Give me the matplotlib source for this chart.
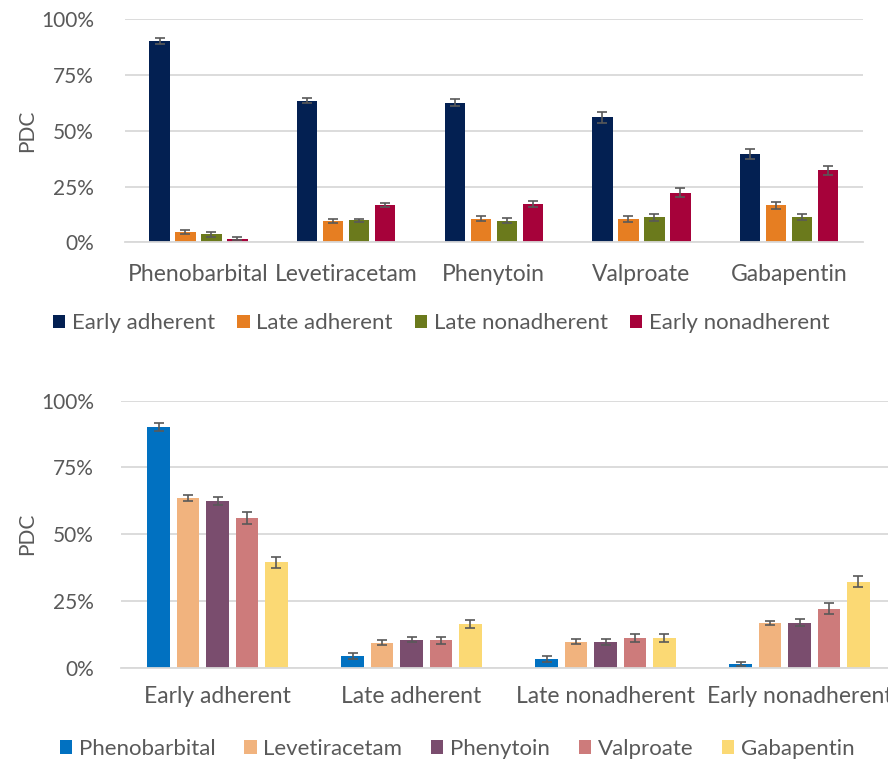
import numpy as np
import matplotlib
matplotlib.use("Agg")
import matplotlib.pyplot as plt
from matplotlib.ticker import PercentFormatter

plt.rcParams['font.family'] = ['Lato', 'DejaVu Sans']

drugs = ['Phenobarbital', 'Levetiracetam', 'Phenytoin', 'Valproate', 'Gabapentin']
groups = ['Early adherent', 'Late adherent', 'Late nonadherent', 'Early nonadherent']

# PDC (%) per drug, one list per adherence group
early_adh = [90.3, 63.5, 62.5, 56.1, 39.5]
late_adh = [4.6, 9.5, 10.6, 10.3, 16.6]
late_non = [3.5, 9.9, 9.7, 11.2, 11.3]
early_non = [1.5, 16.8, 17.0, 22.2, 32.3]

# error bar half widths (%)
early_adh_err = [1.5, 1.1, 1.6, 2.4, 2.1]
late_adh_err = [1.1, 0.8, 1.0, 1.4, 1.5]
late_non_err = [1.1, 0.75, 1.0, 1.5, 1.4]
early_non_err = [0.7, 0.9, 1.3, 2.0, 2.0]

group_colors = ['#032052', '#E67E22', '#6B7A1C', '#A6023A']
drug_colors = ['#0171C1', '#F1B37E', '#7A4D6E', '#CD7B7B', '#FBD974']

vals = np.array([early_adh, late_adh, late_non, early_non])
errs = np.array([early_adh_err, late_adh_err, late_non_err, early_non_err])

txt = '#595959'
grid = '#D9D9D9'

fig = plt.figure(figsize=(8.88, 7.64), dpi=100)


def style(ax):
    ax.set_ylim(0, 100)
    ax.set_yticks([0, 25, 50, 75, 100])
    ax.yaxis.set_major_formatter(PercentFormatter(decimals=0))
    ax.grid(axis='y', color=grid, linewidth=1.3)
    ax.set_axisbelow(True)
    for s in ['top', 'right', 'left']:
        ax.spines[s].set_visible(False)
    ax.spines['bottom'].set_color(grid)
    ax.spines['bottom'].set_linewidth(1.3)
    ax.tick_params(axis='both', length=0, colors=txt)
    ax.tick_params(axis='y', labelsize=15)
    ax.tick_params(axis='x', labelsize=16.5)
    ax.set_ylabel('PDC', color=txt, fontsize=15)


# top: by drug
ax1 = fig.add_axes([0.1404, 0.6829, 0.8312, 0.2919])
x = np.arange(len(drugs))
w = 0.138
step = 0.176
for i, g in enumerate(groups):
    ax1.bar(x + (i - 1.5) * step, vals[i], w, color=group_colors[i], label=g,
            yerr=errs[i], capsize=3.5,
            error_kw=dict(ecolor='#595959', elinewidth=1.2, capthick=1.2))
ax1.set_xlim(-0.5, len(drugs) - 0.5)
ax1.set_xticks(x)
ax1.set_xticklabels(drugs)
style(ax1)
ax1.tick_params(axis='x', pad=16)
ax1.tick_params(axis='y', pad=22)
ax1.yaxis.set_label_coords(-0.118, 0.5)
ax1.legend(loc='center', bbox_to_anchor=(0.497, 0.577), bbox_transform=fig.transFigure,
           ncol=4, frameon=False, fontsize=16, handlelength=0.55, handleheight=0.55,
           handletextpad=0.3, columnspacing=1.0, labelcolor=txt)

# bottom: by adherence group
ax2 = fig.add_axes([0.1357, 0.1257, 0.8739, 0.3499])
x2 = np.arange(len(groups))
w2 = 0.117
step2 = 0.152
for j, d in enumerate(drugs):
    ax2.bar(x2 + (j - 2) * step2, vals[:, j], w2, color=drug_colors[j], label=d,
            yerr=errs[:, j], capsize=3.5,
            error_kw=dict(ecolor='#595959', elinewidth=1.2, capthick=1.2))
ax2.set_xlim(-0.5, len(groups) - 0.5)
ax2.set_xticks(x2)
ax2.set_xticklabels(groups)
style(ax2)
ax2.tick_params(axis='x', pad=13)
ax2.tick_params(axis='y', pad=19)
ax2.yaxis.set_label_coords(-0.107, 0.5)
ax2.legend(loc='center', bbox_to_anchor=(0.515, 0.02), bbox_transform=fig.transFigure,
           ncol=5, frameon=False, fontsize=16, handlelength=0.55, handleheight=0.55,
           handletextpad=0.3, columnspacing=1.3, labelcolor=txt)

fig.savefig('out.png', dpi=100)
